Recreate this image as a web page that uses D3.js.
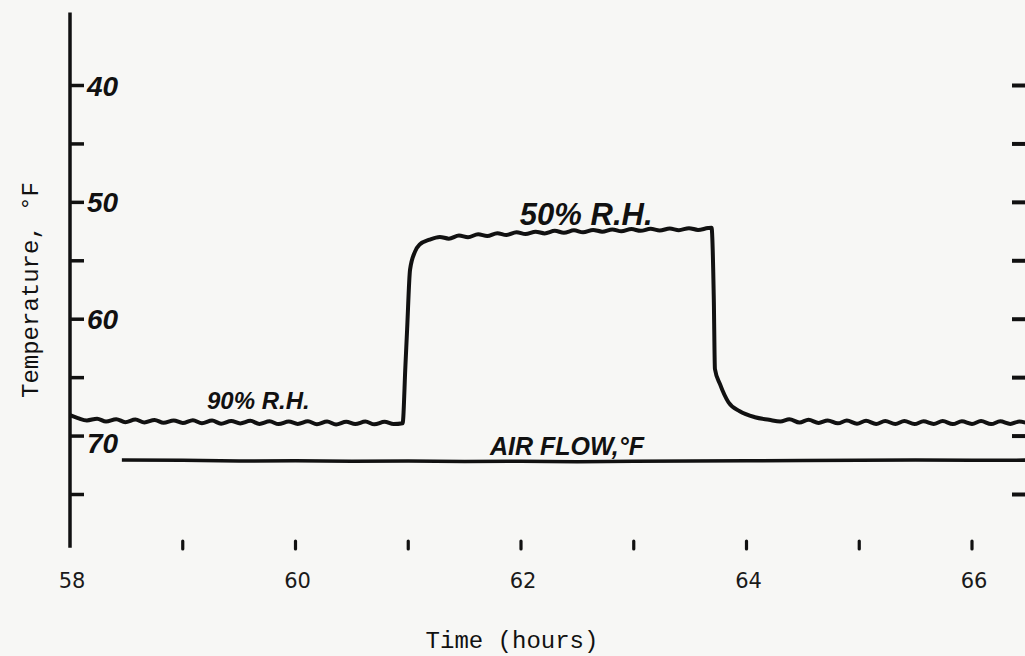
<!DOCTYPE html>
<html>
<head>
<meta charset="utf-8">
<script src="https://cdn.jsdelivr.net/npm/d3@7"></script>
<style>
  html, body { margin: 0; padding: 0; background: #f7f7f5; }
  svg { display: block; }
</style>
</head>
<body>
<svg id="chart" width="1025" height="656"></svg>
<script>
// ---------- data ----------
const yTicks = [40, 45, 50, 55, 60, 65, 70, 75];
const yTickLabels = ["40", "", "50", "", "60", "", "70", ""];
const hourMarks = [59, 60, 61, 62, 63, 64, 65, 66];
const hourLabels = [58, 60, 62, 64, 66];

// humidity-chamber trace (°F vs hours)
const rhTime = [
  58.00, 58.07, 58.15, 58.24, 58.32, 58.41, 58.49, 58.58, 58.66, 58.75, 58.83, 58.92,
  59.00, 59.09, 59.17, 59.26, 59.34, 59.43, 59.51, 59.60, 59.68, 59.77, 59.85, 59.94,
  60.02, 60.11, 60.19, 60.28, 60.36, 60.45, 60.53, 60.62, 60.70, 60.79, 60.87, 60.95,
  60.975, 60.99, 61.016, 61.06, 61.10, 61.19,
  61.28, 61.36, 61.45, 61.53, 61.62, 61.70, 61.79, 61.87, 61.96, 62.04, 62.13, 62.21,
  62.30, 62.38, 62.47, 62.55, 62.64, 62.72, 62.81, 62.89, 62.98, 63.06, 63.15, 63.23,
  63.32, 63.40, 63.49, 63.57, 63.66, 63.69,
  63.71, 63.72, 63.765, 63.84, 63.94, 64.075, 64.20,
  64.30, 64.38, 64.47, 64.55, 64.64, 64.72, 64.81, 64.89, 64.98, 65.06, 65.15, 65.23,
  65.32, 65.40, 65.49, 65.57, 65.66, 65.74, 65.83, 65.91, 66.00, 66.08, 66.17, 66.25,
  66.34, 66.42, 66.51
];
const rhTemp = [
  68.25, 68.50, 68.70, 68.55, 68.80, 68.60, 68.85, 68.62, 68.88, 68.66, 68.90, 68.70,
  68.92, 68.68, 68.95, 68.72, 68.98, 68.75, 68.96, 68.74, 69.00, 68.78, 69.02, 68.80,
  69.00, 68.78, 69.03, 68.80, 69.05, 68.82, 69.02, 68.80, 69.04, 68.82, 69.02, 68.95,
  64.00, 60.90, 55.80, 54.26, 53.66, 53.23,
  53.00, 53.15, 52.88, 53.02, 52.78, 52.92, 52.68, 52.84, 52.60, 52.76, 52.55, 52.70,
  52.48, 52.64, 52.44, 52.60, 52.40, 52.55, 52.36, 52.52, 52.33, 52.48, 52.30, 52.45,
  52.28, 52.42, 52.25, 52.40, 52.24, 52.22,
  58.30, 64.30, 65.60, 67.15, 67.92, 68.43, 68.65,
  68.80, 68.60, 68.88, 68.65, 68.92, 68.70, 68.95, 68.72, 68.98, 68.74, 69.00, 68.76,
  69.00, 68.75, 69.02, 68.78, 69.00, 68.76, 69.02, 68.78, 69.00, 68.76, 69.02, 68.78,
  69.00, 68.80, 69.00
];

// air flow temperature (°F vs hours)
const airTime = [58.46, 59.0, 59.5, 60.0, 60.5, 61.0, 61.5, 62.0, 62.5, 63.0, 63.5, 64.0, 64.5, 65.0, 65.5, 66.0, 66.5];
const airTemp = [72.10, 72.12, 72.18, 72.15, 72.20, 72.18, 72.22, 72.20, 72.24, 72.20, 72.18, 72.16, 72.14, 72.12, 72.10, 72.12, 72.10];

// ---------- layout ----------
const W = 1025, H = 656;
const svg = d3.select("#chart");
svg.append("rect").attr("width", W).attr("height", H).attr("fill", "#f7f7f5");

const x = d3.scaleLinear().domain([58, 66]).range([70, 972]);
const y = d3.scaleLinear().domain([40, 75]).range([85, 494]);
const ink = "#111";
const hand = "'Liberation Sans', Arial, sans-serif";

// left axis line
svg.append("line")
  .attr("x1", x(58)).attr("x2", x(58))
  .attr("y1", y(33.8)).attr("y2", y(79.6))
  .attr("stroke", ink).attr("stroke-width", 3.5);

// left ticks (inward) with handwritten labels
const leftAxis = d3.axisRight(y).tickValues(yTicks)
  .tickSize(14).tickPadding(3)
  .tickFormat((d, i) => yTickLabels[i]);
const gL = svg.append("g").attr("transform", `translate(${x(58)},0)`).call(leftAxis);
gL.select(".domain").remove();
gL.selectAll(".tick line").attr("stroke", ink).attr("stroke-width", 3.5);
gL.selectAll(".tick text")
  .attr("fill", ink)
  .style("font-family", hand).style("font-size", "28px")
  .style("font-weight", "bold").style("font-style", "italic")
  .attr("dy", (d) => d === 70 ? "0.6em" : "0.36em");

// right ticks (no labels)
const rightAxis = d3.axisRight(y).tickValues(yTicks).tickSize(14).tickFormat("");
const gR = svg.append("g").attr("transform", "translate(1012,0)").call(rightAxis);
gR.select(".domain").remove();
gR.selectAll(".tick line").attr("stroke", ink).attr("stroke-width", 4);

// hour marks along the bottom
svg.append("g").selectAll("line").data(hourMarks).join("line")
  .attr("x1", d => x(d)).attr("x2", d => x(d))
  .attr("y1", 541).attr("y2", 549)
  .attr("stroke", ink).attr("stroke-width", 3.2).attr("stroke-linecap", "round");

svg.append("g").selectAll("text").data(hourLabels).join("text")
  .attr("x", d => x(d) + 2).attr("y", 588)
  .attr("text-anchor", "middle")
  .style("font-family", "'DejaVu Sans', sans-serif").style("font-size", "21px")
  .attr("fill", "#1a1a1a")
  .text(d => d);

// axis titles
svg.append("text")
  .attr("x", 512).attr("y", 648).attr("text-anchor", "middle")
  .style("font-family", "'Liberation Mono', 'DejaVu Sans Mono', monospace")
  .style("font-size", "24px").attr("fill", "#111")
  .text("Time (hours)");

svg.append("text")
  .attr("transform", "translate(38,290) rotate(-90)")
  .attr("text-anchor", "middle")
  .style("font-family", "'Liberation Mono', 'DejaVu Sans Mono', monospace")
  .style("font-size", "24px").attr("fill", "#111")
  .text("Temperature, °F");

// traces
const rhData = rhTime.map((t, i) => [t, rhTemp[i]]);
const airData = airTime.map((t, i) => [t, airTemp[i]]);

svg.append("path")
  .attr("d", d3.line().x(d => x(d[0])).y(d => y(d[1])).curve(d3.curveMonotoneX)(rhData))
  .attr("fill", "none").attr("stroke", ink).attr("stroke-width", 4)
  .attr("stroke-linejoin", "round");

svg.append("path")
  .attr("d", d3.line().x(d => x(d[0])).y(d => y(d[1]))(airData))
  .attr("fill", "none").attr("stroke", ink).attr("stroke-width", 3.5);

// handwritten annotations
function note(t, temp, txt, size) {
  svg.append("text")
    .attr("x", x(t)).attr("y", y(temp))
    .style("font-family", hand).style("font-size", size + "px")
    .style("font-weight", "bold").style("font-style", "italic")
    .attr("fill", ink).text(txt);
}
note(59.215, 67.75, "90% R.H.", 24);
note(61.99, 51.95, "50% R.H.", 31);
note(61.725, 71.67, "AIR FLOW,°F", 25);
</script>
</body>
</html>
